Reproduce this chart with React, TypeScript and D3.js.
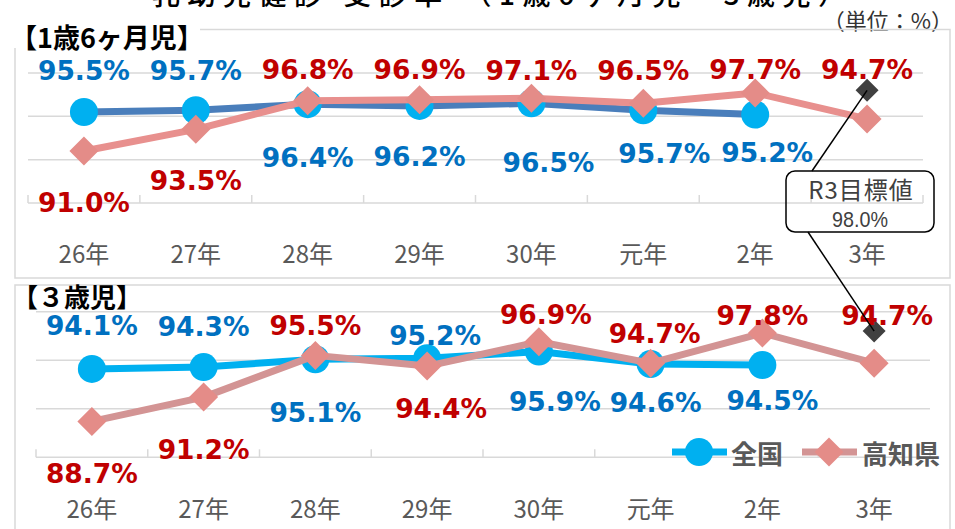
import React from "react";
import * as d3 from "d3";

const categories = ["26年", "27年", "28年", "29年", "30年", "元年", "2年", "3年"];

// 1歳6ヶ月児
const nat18 = [95.5, 95.7, 96.4, 96.2, 96.5, 95.7, 95.2];
const kochi18 = [91.0, 93.5, 96.8, 96.9, 97.1, 96.5, 97.7, 94.7];
// 3歳児
const nat3 = [94.1, 94.3, 95.1, 95.2, 95.9, 94.6, 94.5];
const kochi3 = [88.7, 91.2, 95.5, 94.4, 96.9, 94.7, 97.8, 94.7];
// R3 target
const targetValue = 98.0;
const targetCategory = "3年";

const yTicks = [85, 90, 95, 100];

// label offsets (layout)
const nat18Dx = [0, 0, 0, 0, 17, 21, 12];
const nat18Dy = [-42, -40, 53, 51, 59, 43, 38];
const kochi18Dx = [0, 0, 0, 0, 0, 0, 0, 0];
const kochi18Dy = [51, 51, -31, -30, -28, -33, -23, -49];
const nat3Dx = [0, 0, 0, 8, 16, 5, 10];
const nat3Dy = [-43, -41, 53, -23, 50, 38, 35];
const kochi3Dx = [0, 0, 0, 14, 7, 4, 0, 13];
const kochi3Dy = [52, 52, -30, 42, -27, -30, -18, -48];

const BLUE_TXT = "#0070C0";
const RED_TXT = "#C00000";
const CYAN = "#00B0F0";
const GRID = "#D9D9D9";
const DIAMOND = "#E48C88";
const JP = "'Noto Sans CJK JP', 'Noto Sans', sans-serif";
const NUM = "'DejaVu Sans', Verdana, sans-serif";

function diamondPath(cx: number, cy: number, r: number) {
  return `M${cx},${cy - r}L${cx + r},${cy}L${cx},${cy + r}L${cx - r},${cy}Z`;
}

type PanelProps = {
  xr: [number, number];
  yr: [number, number];
  nat: number[];
  kochi: number[];
  natLine: string;
  kochiLine: string;
  natDx: number[];
  natDy: number[];
  kDx: number[];
  kDy: number[];
  labelY: number;
};

function makeScales(xr: [number, number], yr: [number, number]) {
  const x = d3.scaleBand<string>().domain(categories).range(xr).padding(0);
  const y = d3.scaleLinear().domain([85, 100]).range(yr);
  const cx = (c: string) => (x(c) as number) + x.bandwidth() / 2;
  return { x, y, cx };
}

function Panel(p: PanelProps) {
  const { x, y, cx } = makeScales(p.xr, p.yr);
  const line = d3
    .line<number>()
    .x((_, i) => cx(categories[i]))
    .y((d) => y(d));
  const bounds = categories.map((c) => x(c) as number).concat([p.xr[1]]);
  const tx = cx(targetCategory);
  const ty = y(targetValue);
  return (
    <g>
      {yTicks.slice(1).map((t) => (
        <line key={t} x1={p.xr[0]} x2={p.xr[1]} y1={y(t)} y2={y(t)} stroke={GRID} strokeWidth={1.5} />
      ))}
      <line x1={p.xr[0]} x2={p.xr[1]} y1={y(85)} y2={y(85)} stroke={GRID} strokeWidth={1.5} />
      {bounds.map((b, i) => (
        <line key={i} x1={b} x2={b} y1={y(85)} y2={y(85) - 8} stroke={GRID} strokeWidth={1.5} />
      ))}
      {categories.map((c) => (
        <text key={c} x={cx(c)} y={p.labelY} textAnchor="middle" dominantBaseline="central"
          fontFamily={JP} fontSize={24} fill="#595959">{c}</text>
      ))}
      <path d={line(p.nat) || ""} fill="none" stroke={p.natLine} strokeWidth={7} strokeLinejoin="round" />
      {p.nat.map((v, i) => (
        <circle key={i} cx={cx(categories[i])} cy={y(v)} r={14} fill={CYAN} />
      ))}
      <path d={line(p.kochi) || ""} fill="none" stroke={p.kochiLine} strokeWidth={7} strokeLinejoin="round" />
      {p.kochi.map((v, i) => (
        <path key={i} d={diamondPath(cx(categories[i]), y(v), 14.5)} fill={DIAMOND} />
      ))}
      <path d={diamondPath(tx, ty, 11.5)} fill="#404040" />
      {p.nat.map((v, i) => (
        <text key={"n" + i} x={cx(categories[i]) + p.natDx[i]} y={y(v) + p.natDy[i]} textAnchor="middle"
          dominantBaseline="central" fontFamily={NUM} fontWeight="bold" fontSize={26.5} fill={BLUE_TXT}>
          {v.toFixed(1)}%
        </text>
      ))}
      {p.kochi.map((v, i) => (
        <text key={"k" + i} x={cx(categories[i]) + p.kDx[i]} y={y(v) + p.kDy[i]} textAnchor="middle"
          dominantBaseline="central" fontFamily={NUM} fontWeight="bold" fontSize={26.5} fill={RED_TXT}>
          {v.toFixed(1)}%
        </text>
      ))}
    </g>
  );
}

export default function App() {
  const top = makeScales([28, 923], [203, 73]);
  const bot = makeScales([36, 930], [457.3, 311.7]);
  const t1 = { x: top.cx(targetCategory), y: top.y(targetValue) };
  const t2 = { x: bot.cx(targetCategory), y: bot.y(targetValue) };
  const box = { x: 786, y: 171, w: 148, h: 61 };
  return (
    <svg width={955} height={529} style={{ position: "absolute", left: 0, top: 0, background: "#fff" }}>
      <rect x={0} y={0} width={955} height={529} fill="#fff" />
      <text x={152} y={5} fontFamily={JP} fontSize={28} fontWeight={500} fill="#000"
        textLength={694} lengthAdjust="spacing">乳幼児健診 受診率 （1歳6ヶ月児・3歳児）</text>
      <text x={953} y={19} textAnchor="end" dominantBaseline="central" fontFamily={JP}
        fontSize={22} fill="#333">（単位：%）</text>
      {/* panel borders */}
      <rect x={15} y={29.5} width={935} height={248.5} fill="none" stroke={GRID} strokeWidth={1.5} />
      <rect x={15} y={285} width={935} height={260} fill="none" stroke={GRID} strokeWidth={1.5} />
      <rect x={8} y={24} width={192} height={24} fill="#fff" />
      <text x={10} y={36} dominantBaseline="central" fontFamily={JP} fontWeight="bold" fontSize={27} fill="#000">【1歳6ヶ月児】</text>
      <text x={12} y={295} dominantBaseline="central" fontFamily={JP} fontWeight="bold" fontSize={26} fill="#000">【３歳児】</text>
      <Panel xr={[28, 923]} yr={[203, 73]} nat={nat18} kochi={kochi18} natLine="#4A7EBB" kochiLine="#E8908E"
        natDx={nat18Dx} natDy={nat18Dy} kDx={kochi18Dx} kDy={kochi18Dy} labelY={252} />
      <Panel xr={[36, 930]} yr={[457.3, 311.7]} nat={nat3} kochi={kochi3} natLine={CYAN} kochiLine="#D39494"
        natDx={nat3Dx} natDy={nat3Dy} kDx={kochi3Dx} kDy={kochi3Dy} labelY={507} />
      {/* callout */}
      <line x1={t1.x} y1={t1.y} x2={812} y2={box.y} stroke="#000" strokeWidth={1.5} />
      <line x1={808} y1={box.y + box.h} x2={t2.x} y2={t2.y} stroke="#000" strokeWidth={1.5} />
      <rect x={box.x} y={box.y} width={box.w} height={box.h} rx={9} fill="none" stroke="#000" strokeWidth={1.5} />
      <text x={box.x + box.w / 2 + 1} y={188} textAnchor="middle" dominantBaseline="central" fontFamily={JP}
        fontSize={24} fill="#404040" letterSpacing={1}>R3目標値</text>
      <text x={box.x + box.w / 2} y={219} textAnchor="middle" dominantBaseline="central"
        fontFamily="'Liberation Sans', Arial, sans-serif" fontSize={22} fill="#404040"
        textLength={56} lengthAdjust="spacingAndGlyphs">{targetValue.toFixed(1)}%</text>
      {/* legend */}
      <line x1={672} x2={727} y1={452} y2={452} stroke={CYAN} strokeWidth={7} />
      <circle cx={699} cy={452} r={14} fill={CYAN} />
      <text x={731} y={452} dominantBaseline="central" fontFamily={JP} fontWeight="bold" fontSize={26} fill="#595959">全国</text>
      <line x1={802} x2={857} y1={452} y2={452} stroke="#D39494" strokeWidth={7} />
      <path d={diamondPath(829, 452, 14.5)} fill={DIAMOND} />
      <text x={862} y={452} dominantBaseline="central" fontFamily={JP} fontWeight="bold" fontSize={26} fill="#595959">高知県</text>
    </svg>
  );
}
